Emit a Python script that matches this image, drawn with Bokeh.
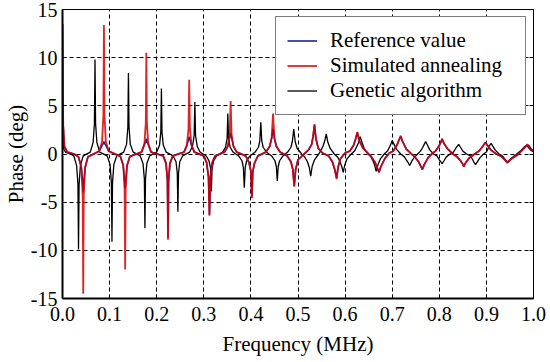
from bokeh.plotting import figure
from bokeh.models import (Range1d, FixedTicker, PrintfTickFormatter, LinearAxis, Legend,
                          LegendItem, CustomJSTickFormatter)
from bokeh.embed import file_html
from bokeh.resources import INLINE

# ---------------- data ----------------
x_ticks = [0.0, 0.1, 0.2, 0.3, 0.4, 0.5, 0.6, 0.7, 0.8, 0.9, 1.0]
y_ticks = [-15, -10, -5, 0, 5, 10, 15]
series_names = ["Reference value", "Simulated annealing", "Genetic algorithm"]

sa_freq = [
    0.000, 0.0015, 0.004, 0.010, 0.025,
    0.034, 0.040, 0.0428, 0.044, 0.0452, 0.048, 0.054,
    0.078, 0.084, 0.0868, 0.088, 0.0892, 0.092, 0.098,
    0.123, 0.129, 0.1318, 0.133, 0.1342, 0.137, 0.143,
    0.168, 0.174, 0.1768, 0.178, 0.1792, 0.182, 0.188,
    0.214, 0.220, 0.2228, 0.224, 0.2252, 0.228, 0.234,
    0.258, 0.264, 0.2675, 0.269, 0.2705, 0.274, 0.280,
    0.300, 0.306, 0.310, 0.312, 0.314, 0.318, 0.324,
    0.344, 0.351, 0.355, 0.357, 0.359, 0.363, 0.370,
    0.389, 0.396, 0.400, 0.402, 0.404, 0.408, 0.415,
    0.432, 0.440, 0.444, 0.447, 0.450, 0.454, 0.462,
    0.477, 0.485, 0.489, 0.492, 0.495, 0.500, 0.515,
    0.522, 0.529, 0.532, 0.535, 0.538, 0.543, 0.552,
    0.565, 0.573, 0.578, 0.582, 0.585, 0.590, 0.600,
    0.610, 0.618, 0.622, 0.626, 0.630, 0.638, 0.648,
    0.656, 0.664, 0.668, 0.672, 0.676, 0.684, 0.694,
    0.702, 0.710, 0.714, 0.718, 0.722, 0.730, 0.741,
    0.748, 0.756, 0.760, 0.764, 0.768, 0.776, 0.786,
    0.792, 0.799, 0.803, 0.806, 0.810, 0.818, 0.829,
    0.838, 0.845, 0.849, 0.852, 0.856, 0.864, 0.875,
    0.884, 0.891, 0.895, 0.898, 0.902, 0.910, 0.921,
    0.930, 0.937, 0.941, 0.944, 0.948, 0.956, 0.966,
    0.974, 0.980, 0.984, 0.987, 0.991, 0.995, 1.000,
]
sa_phase = [
    13.5, 3.0, 0.8, 0.2, 0.0,
    -0.3, -1.4, -4.2, -14.5, -4.2, -1.4, -0.3,
    0.3, 1.3, 4.0, 13.4, 4.0, 1.3, 0.3,
    -0.25, -1.2, -3.6, -12.0, -3.6, -1.2, -0.25,
    0.2, 1.1, 3.2, 10.5, 3.2, 1.1, 0.2,
    -0.2, -1.0, -2.8, -8.9, -2.8, -1.0, -0.2,
    0.2, 0.9, 2.6, 7.7, 2.6, 0.9, 0.2,
    -0.2, -0.9, -2.4, -6.4, -2.4, -0.9, -0.2,
    0.2, 0.8, 2.0, 5.5, 2.0, 0.8, 0.2,
    -0.2, -0.9, -1.8, -4.6, -1.8, -0.9, -0.2,
    0.2, 0.8, 1.7, 4.2, 1.7, 0.8, 0.2,
    -0.2, -0.8, -1.6, -3.4, -1.6, -0.6, 0.1,
    0.4, 1.0, 1.8, 3.1, 1.6, 0.6, 0.1,
    -0.2, -0.8, -1.6, -2.6, -1.4, -0.5, 0.1,
    0.3, 0.9, 1.5, 2.3, 1.4, 0.6, 0.1,
    -0.3, -0.9, -1.4, -1.9, -1.3, -0.5, 0.1,
    0.3, 0.9, 1.4, 1.9, 1.3, 0.5, 0.0,
    -0.3, -0.8, -1.2, -1.6, -1.1, -0.4, 0.1,
    0.3, 0.8, 1.2, 1.6, 1.1, 0.5, 0.0,
    -0.3, -0.7, -1.0, -1.3, -0.9, -0.4, 0.0,
    0.3, 0.7, 1.0, 1.2, 0.9, 0.4, 0.0,
    -0.2, -0.5, -0.7, -0.9, -0.7, -0.4, -0.1,
    0.3, 0.6, 0.8, 1.0, 0.8, 0.5, 0.3,
]

ref_freq = list(sa_freq)  # same frequency samples
ref_phase = [
    13.5, 3.0, 0.8, 0.2, 0.0,
    -0.3, -1.4, -3.0, -4.0, -3.0, -1.4, -0.3,
    0.3, 0.9, 1.1, 1.3, 1.1, 0.9, 0.3,
    -0.25, -1.2, -2.8, -3.6, -2.8, -1.2, -0.25,
    0.2, 1.0, 1.3, 1.6, 1.3, 1.0, 0.2,
    -0.2, -1.0, -2.8, -8.7, -2.8, -1.0, -0.2,
    0.2, 0.9, 1.5, 1.8, 1.5, 0.9, 0.2,
    -0.2, -0.9, -2.4, -6.3, -2.4, -0.9, -0.2,
    0.2, 0.8, 1.7, 2.2, 1.7, 0.8, 0.2,
    -0.2, -0.9, -1.8, -4.5, -1.8, -0.9, -0.2,
    0.2, 0.8, 1.6, 2.6, 1.6, 0.8, 0.2,
    -0.2, -0.8, -1.6, -3.3, -1.6, -0.6, 0.1,
    0.4, 1.0, 1.8, 3.0, 1.6, 0.6, 0.1,
    -0.2, -0.8, -1.6, -2.5, -1.4, -0.5, 0.1,
    0.3, 0.9, 1.5, 2.2, 1.4, 0.6, 0.1,
    -0.3, -0.9, -1.4, -1.9, -1.3, -0.5, 0.1,
    0.3, 0.9, 1.4, 1.8, 1.3, 0.5, 0.0,
    -0.3, -0.8, -1.2, -1.6, -1.1, -0.4, 0.1,
    0.3, 0.8, 1.2, 1.5, 1.1, 0.5, 0.0,
    -0.3, -0.7, -1.0, -1.3, -0.9, -0.4, 0.0,
    0.3, 0.7, 1.0, 1.2, 0.9, 0.4, 0.0,
    -0.2, -0.5, -0.7, -0.9, -0.7, -0.4, -0.1,
    0.3, 0.6, 0.8, 0.95, 0.8, 0.5, 0.3,
]

ga_freq = [
    0.000, 0.002, 0.006, 0.015,
    0.024, 0.030, 0.0328, 0.034, 0.0352, 0.038, 0.044,
    0.059, 0.065, 0.0678, 0.069, 0.0702, 0.073, 0.079,
    0.095, 0.101, 0.1038, 0.105, 0.1062, 0.109, 0.115,
    0.130, 0.136, 0.1388, 0.140, 0.1412, 0.144, 0.150,
    0.165, 0.171, 0.1738, 0.175, 0.1762, 0.179, 0.185,
    0.200, 0.206, 0.2088, 0.210, 0.2112, 0.214, 0.220,
    0.235, 0.241, 0.2437, 0.245, 0.2463, 0.249, 0.255,
    0.270, 0.276, 0.2795, 0.281, 0.2825, 0.286, 0.292,
    0.305, 0.311, 0.3145, 0.316, 0.3175, 0.321, 0.327,
    0.340, 0.346, 0.3495, 0.351, 0.3525, 0.356, 0.362,
    0.374, 0.381, 0.384, 0.386, 0.388, 0.391, 0.398,
    0.409, 0.416, 0.419, 0.421, 0.423, 0.426, 0.433,
    0.444, 0.451, 0.454, 0.456, 0.458, 0.461, 0.468,
    0.478, 0.485, 0.488, 0.491, 0.494, 0.498, 0.508,
    0.514, 0.520, 0.524, 0.527, 0.530, 0.535, 0.544,
    0.548, 0.553, 0.557, 0.560, 0.563, 0.568, 0.577,
    0.584, 0.589, 0.593, 0.596, 0.599, 0.604, 0.613,
    0.620, 0.625, 0.629, 0.632, 0.636, 0.641, 0.649,
    0.655, 0.660, 0.663, 0.666, 0.670, 0.675, 0.683,
    0.690, 0.694, 0.697, 0.700, 0.704, 0.709, 0.718,
    0.726, 0.731, 0.734, 0.737, 0.741, 0.746, 0.754,
    0.760, 0.765, 0.768, 0.771, 0.775, 0.780, 0.788,
    0.795, 0.800, 0.803, 0.806, 0.810, 0.815, 0.823,
    0.830, 0.835, 0.838, 0.841, 0.845, 0.850, 0.858,
    0.866, 0.871, 0.874, 0.877, 0.881, 0.886, 0.894,
    0.900, 0.904, 0.907, 0.910, 0.914, 0.919, 0.927,
    0.934, 0.939, 0.942, 0.945, 0.949, 0.954, 0.962,
    0.972, 0.978, 0.982, 0.985, 0.989, 0.994, 1.000,
]
ga_phase = [
    1.5, 0.6, 0.2, 0.05,
    -0.2, -1.2, -3.2, -9.9, -3.2, -1.2, -0.2,
    0.2, 1.2, 3.2, 9.8, 3.2, 1.2, 0.2,
    -0.2, -1.1, -3.0, -9.1, -3.0, -1.1, -0.2,
    0.2, 1.0, 2.8, 8.4, 2.8, 1.0, 0.2,
    -0.2, -1.0, -2.6, -7.7, -2.6, -1.0, -0.2,
    0.2, 0.9, 2.3, 6.8, 2.3, 0.9, 0.2,
    -0.2, -0.8, -2.0, -6.0, -2.0, -0.8, -0.2,
    0.2, 0.8, 1.9, 5.4, 1.9, 0.8, 0.2,
    -0.2, -0.7, -1.5, -3.9, -1.5, -0.7, -0.2,
    0.2, 0.7, 1.6, 4.2, 1.6, 0.7, 0.2,
    -0.2, -0.7, -1.4, -3.5, -1.4, -0.7, -0.2,
    0.2, 0.7, 1.4, 3.3, 1.4, 0.7, 0.2,
    -0.2, -0.7, -1.3, -2.8, -1.3, -0.7, -0.2,
    0.2, 0.7, 1.3, 2.6, 1.3, 0.6, 0.0,
    -0.3, -0.8, -1.4, -2.3, -1.3, -0.6, 0.0,
    0.3, 0.8, 1.4, 2.1, 1.3, 0.6, 0.0,
    -0.3, -0.8, -1.3, -1.9, -1.2, -0.5, 0.0,
    0.3, 0.8, 1.2, 1.8, 1.2, 0.5, 0.0,
    -0.3, -0.8, -1.2, -1.8, -1.1, -0.5, 0.0,
    0.3, 0.7, 1.0, 1.4, 1.0, 0.5, 0.0,
    -0.3, -0.7, -0.9, -1.2, -0.8, -0.4, 0.0,
    0.3, 0.7, 1.0, 1.3, 0.9, 0.4, 0.0,
    -0.2, -0.6, -0.8, -1.0, -0.7, -0.3, 0.0,
    0.2, 0.6, 0.8, 1.0, 0.7, 0.3, 0.0,
    -0.2, -0.6, -0.9, -1.1, -0.8, -0.4, 0.0,
    0.2, 0.6, 0.9, 1.1, 0.8, 0.4, 0.0,
    -0.2, -0.5, -0.7, -0.9, -0.7, -0.4, -0.1,
    0.3, 0.6, 0.8, 0.9, 0.7, 0.4, 0.2,
]

assert len(sa_freq) == len(sa_phase) == len(ref_phase)
assert len(ga_freq) == len(ga_phase)

# ---------------- figure ----------------
FONT = "'Liberation Serif', 'Times New Roman', serif"

p = figure(width=548, height=362, output_backend="svg", toolbar_location=None,
           x_range=Range1d(0, 1), y_range=Range1d(-15, 15),
           min_border_left=61, min_border_right=15, min_border_top=9, min_border_bottom=64)
p.background_fill_color = "white"
p.border_fill_color = "white"
p.outline_line_color = "black"
p.outline_line_width = 1

# grid
for g in (p.xgrid, p.ygrid):
    g.grid_line_color = "black"
    g.grid_line_dash = "4 3"
    g.grid_line_width = 1
p.xgrid.ticker = FixedTicker(ticks=x_ticks)
p.ygrid.ticker = FixedTicker(ticks=y_ticks)

# axes
p.xaxis.ticker = FixedTicker(ticks=x_ticks)
p.xaxis.formatter = PrintfTickFormatter(format="%.1f")
p.yaxis.ticker = FixedTicker(ticks=y_ticks)
p.yaxis.formatter = PrintfTickFormatter(format="%d")
for ax in (p.xaxis[0], p.yaxis[0]):
    ax.axis_line_width = 2
    ax.axis_line_color = "black"
    ax.major_tick_in = 4
    ax.major_tick_out = 0
    ax.minor_tick_line_color = None
    ax.major_tick_line_color = "black"
    ax.major_label_text_font = FONT
    ax.major_label_text_color = "black"
    ax.axis_label_text_font = FONT
    ax.axis_label_text_font_size = "21px"
    ax.axis_label_text_font_style = "normal"
    ax.axis_label_text_color = "black"
p.xaxis.major_label_text_font_size = "20px"
p.yaxis.major_label_text_font_size = "20px"
p.xaxis.axis_label = "Frequency (MHz)"
p.yaxis.axis_label = "Phase (deg)"
p.xaxis.major_label_standoff = 8
p.xaxis.axis_label_standoff = 8
p.yaxis.major_label_standoff = 5
p.yaxis.axis_label_standoff = 0

right_axis = LinearAxis(ticker=FixedTicker(ticks=y_ticks),
                        formatter=CustomJSTickFormatter(code="return ''"),
                        major_label_standoff=0,
                        major_tick_in=4, major_tick_out=0, minor_tick_line_color=None,
                        axis_line_width=1, axis_line_color="black")
p.add_layout(right_axis, "right")

# lines
r_ga = p.line(ga_freq, ga_phase, line_color="black", line_width=1.3)
r_ref = p.line(ref_freq, ref_phase, line_color="#1f1f9e", line_width=1.6)
r_sa = p.line(sa_freq, sa_phase, line_color="#d50000", line_width=1.8, line_alpha=0.85)

legend = Legend(items=[
    LegendItem(label=series_names[0], renderers=[r_ref]),
    LegendItem(label=series_names[1], renderers=[r_sa]),
    LegendItem(label=series_names[2], renderers=[r_ga]),
], location="top_right")
legend.margin = 7
legend.padding = 11
legend.spacing = 0
legend.label_height = 23
legend.glyph_height = 23
legend.glyph_width = 30
legend.label_standoff = 13
legend.label_width = 184
legend.label_text_font = FONT
legend.label_text_font_size = "21px"
legend.label_text_color = "black"
legend.border_line_color = "black"
legend.border_line_width = 1.2
legend.background_fill_color = "white"
legend.background_fill_alpha = 1.0
p.add_layout(legend, "center")

open("out.html", "w").write(file_html(p, INLINE))
